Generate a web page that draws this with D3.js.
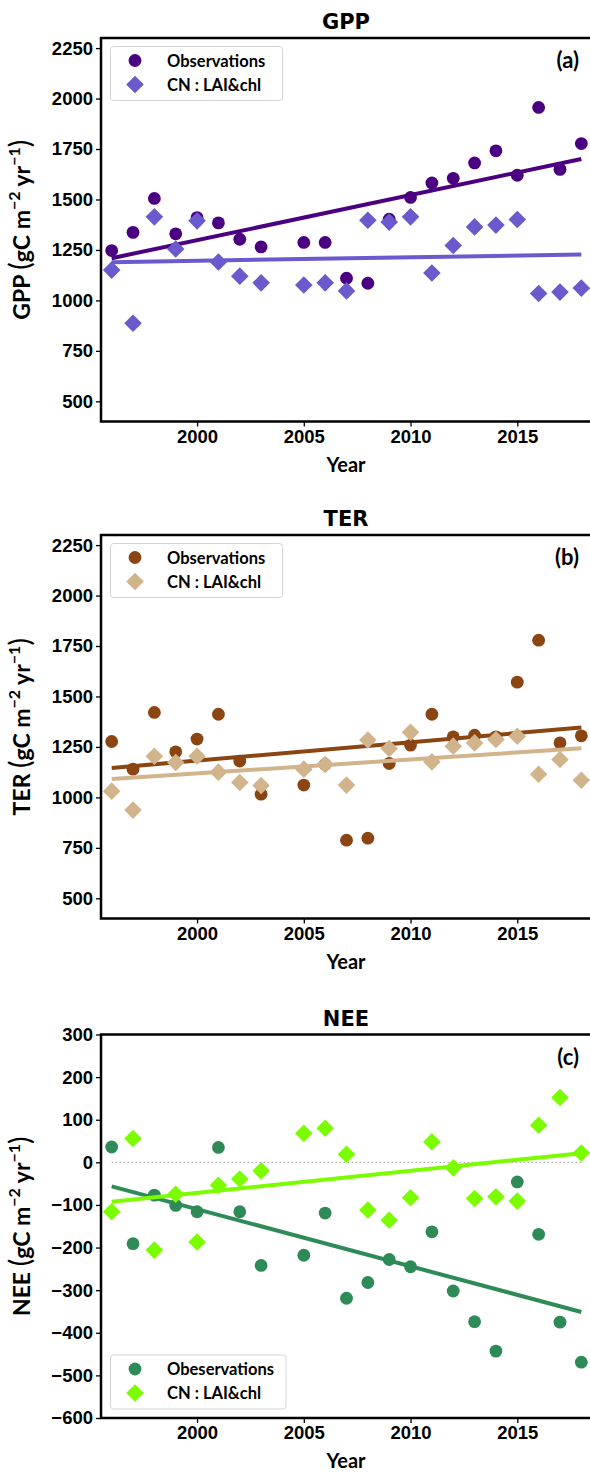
<!DOCTYPE html>
<html><head><meta charset="utf-8">
<script src="https://cdn.jsdelivr.net/npm/d3@7"></script>
<style>
html,body{margin:0;padding:0;background:#fff;}
svg{display:block;}
text{font-family:Lato,"Liberation Sans",sans-serif;font-weight:bold;fill:#000;}
</style></head>
<body>
<script>
const years = [1996,1997,1998,1999,2000,2001,2002,2003,2005,2006,2007,2008,2009,2010,2011,2012,2013,2014,2015,2016,2017,2018];
const gppObs = [1247,1337,1505,1330,1410,1384,1303,1265,1287,1287,1110,1085,1402,1510,1582,1605,1681,1741,1620,1956,1649,1777];
const gppMod = [1150,887,1414,1255,1394,1190,1120,1087,1076,1087,1047,1397,1388,1414,1136,1272,1364,1373,1401,1034,1041,1061];
const terObs = [1277,1140,1421,1226,1289,1412,1180,1016,1061,1163,788,798,1168,1259,1412,1300,1308,1300,1571,1779,1270,1305];
const terMod = [1031,937,1204,1173,1204,1125,1074,1059,1140,1163,1061,1284,1242,1323,1176,1254,1270,1287,1303,1115,1188,1085];
const neeObs = [36,-191,-77,-101,-116,35,-116,-242,-218,-119,-319,-282,-228,-245,-163,-302,-374,-443,-46,-169,-375,-469];
const neeMod = [-116,56,-206,-75,-187,-54,-39,-20,68,80,19,-112,-136,-83,48,-13,-85,-81,-91,87,152,22];
const xTicks = [2000,2005,2010,2015];
const fluxTicks = [500,750,1000,1250,1500,1750,2000,2250];
const neeTicks = [-600,-500,-400,-300,-200,-100,0,100,200,300];

const W = 590, H = 1473;
const left = 101, right = 592, ph = 383.5;
const svg = d3.select("body").append("svg").attr("width", W).attr("height", H);

function fit(xs, ys){
  const n = xs.length, mx = d3.mean(xs), my = d3.mean(ys);
  let sxy = 0, sxx = 0;
  for (let i=0;i<n;i++){ sxy += (xs[i]-mx)*(ys[i]-my); sxx += (xs[i]-mx)**2; }
  const b = sxy/sxx; return x => my + b*(x-mx);
}
function diamond(r){ return `M0,${-r}L${r},0L0,${r}L${-r},0Z`; }

function panel(o){
  const top = o.top;
  const g = svg.append("g");
  const x = d3.scaleLinear().domain([1995.5, 2018.5]).range([left, right]);
  const y = d3.scaleLinear().domain(o.ydom).range([top+ph, top]);
  g.append("text").attr("x", 346).attr("y", top-9).attr("text-anchor","middle")
    .style("font-family","'DejaVu Sans',sans-serif").style("font-size","21px").text(o.title);
  if (o.zero){
    g.append("line").attr("x1", x(1996)).attr("x2", x(2018)).attr("y1", y(0)).attr("y2", y(0))
      .attr("stroke","#999").attr("stroke-width",1).attr("stroke-dasharray","1.5,2.5");
  }
  g.selectAll(".obs").data(years.map((yr,i)=>[yr,o.obs[i]])).join("circle")
    .attr("cx", d=>x(d[0])).attr("cy", d=>y(d[1])).attr("r", 6.4).attr("fill", o.c1);
  const f1 = fit(years, o.obs), f2 = fit(years, o.mod);
  [[f1,o.c1],[f2,o.c2]].forEach(([f,c])=>{
    g.append("line").attr("x1", x(1996)).attr("x2", x(2018)).attr("y1", y(f(1996))).attr("y2", y(f(2018)))
      .attr("stroke", c).attr("stroke-width", 4);
  });
  g.selectAll(".mod").data(years.map((yr,i)=>[yr,o.mod[i]])).join("path")
    .attr("d", diamond(8.8)).attr("transform", d=>`translate(${x(d[0])},${y(d[1])})`).attr("fill", o.c2);
  const xa = g.append("g").attr("transform",`translate(0,${top+ph})`)
    .call(d3.axisBottom(x).tickValues(xTicks).tickFormat(d3.format("d")).tickSize(5).tickPadding(3));
  const ya = g.append("g").attr("transform",`translate(${left},0)`)
    .call(d3.axisLeft(y).tickValues(o.ticks).tickFormat(d=> d<0 ? "\u2212"+Math.abs(d) : d).tickSize(5).tickPadding(3));
  [xa,ya].forEach(a=>{
    a.select(".domain").remove();
    a.selectAll(".tick line").attr("stroke","#000").attr("stroke-width",1.3);
    a.selectAll(".tick text").style("font-size","18.5px").style("font-family","'Liberation Sans',sans-serif").attr("fill","#000");
  });
  g.append("rect").attr("x", left).attr("y", top).attr("width", right-left).attr("height", ph)
    .attr("fill","none").attr("stroke","#000").attr("stroke-width",2.5);
  g.append("text").attr("x", 346).attr("y", top+ph+50).attr("text-anchor","middle")
    .style("font-size","20px").text("Year");
  const yl = g.append("text").attr("transform",`translate(30,${top+ph/2}) rotate(-90)`)
    .attr("text-anchor","middle").style("font-size","23px");
  yl.append("tspan").text(o.title+" ");
  yl.append("tspan").style("font-size","28px").attr("font-weight","normal").text("(");
  yl.append("tspan").text("gC m");
  yl.append("tspan").attr("dy",-10).style("font-size","16px").text("\u22122");
  yl.append("tspan").attr("dy",10).text(" yr");
  yl.append("tspan").attr("dy",-10).style("font-size","16px").text("\u22121");
  yl.append("tspan").attr("dy",10).style("font-size","28px").attr("font-weight","normal").text(")");
  g.append("text").attr("x", 579).attr("y", top+30).attr("text-anchor","end")
    .style("font-size","22px").text(o.letter);
  const ly = o.legendTop;
  const lw = o.legendW;
  g.append("rect").attr("x",110.5).attr("y",ly).attr("width",lw).attr("height",54).attr("rx",3)
    .attr("fill","#fff").attr("fill-opacity",0.8).attr("stroke","#d5d5d5").attr("stroke-width",1);
  g.append("circle").attr("cx",135).attr("cy",ly+14).attr("r",6.4).attr("fill",o.c1);
  g.append("path").attr("d",diamond(8.8)).attr("transform",`translate(135,${ly+38})`).attr("fill",o.c2);
  g.append("text").attr("x",167).attr("y",ly+20).style("font-size","16.5px").text(o.obsLabel);
  g.append("text").attr("x",167).attr("y",ly+44).style("font-size","16.5px").text("CN : LAI&chl");
}

panel({title:"GPP", letter:"(a)", top:38, ydom:[400,2300], ticks:fluxTicks, obs:gppObs, mod:gppMod,
  c1:"#4B0082", c2:"#6A5ACD", legendTop:46.5, legendW:172, obsLabel:"Observations"});
panel({title:"TER", letter:"(b)", top:535, ydom:[400,2300], ticks:fluxTicks, obs:terObs, mod:terMod,
  c1:"#8B4513", c2:"#D2B48C", legendTop:543.5, legendW:172, obsLabel:"Observations"});
panel({title:"NEE", letter:"(c)", top:1034.5, ydom:[-600,300], ticks:neeTicks, obs:neeObs, mod:neeMod,
  c1:"#2E8B57", c2:"#7CFC00", legendTop:1355, legendW:175.5, obsLabel:"Obeservations", zero:true});
</script>
</body></html>
